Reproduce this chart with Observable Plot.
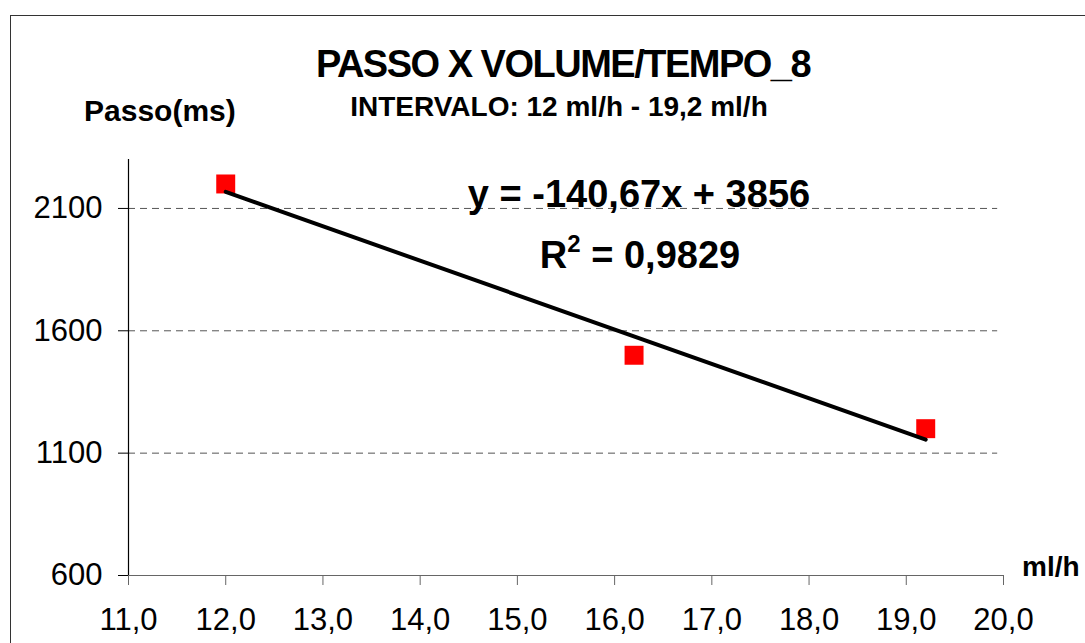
<!DOCTYPE html>
<html>
<head>
<meta charset="utf-8">
<script src="https://cdn.jsdelivr.net/npm/d3@7"></script>
<script src="https://cdn.jsdelivr.net/npm/@observablehq/plot@0.6"></script>
<style>
  html, body { margin: 0; padding: 0; background: #fff; overflow: hidden; }
  #wrap { position: relative; width: 1085px; height: 643px; font-family: "Liberation Sans", Arial, sans-serif; }
  #frame { position: absolute; left: 10px; top: 15px; width: 1200px; height: 800px; border: 1.5px solid #333; box-sizing: border-box; }
  .t { position: absolute; font-weight: bold; color: #000; white-space: nowrap; line-height: 1; }
  .c { transform: translateX(-50%); }
  #chart { position: absolute; left: 0; top: 0; }
  #chart svg text { font-size: 31px !important; font-family: "Liberation Sans", Arial, sans-serif; }
</style>
</head>
<body>
<div id="wrap">
  <div id="frame"></div>
  <div id="chart"></div>
  <div class="t c" style="left:563px;top:45px;font-size:38px;letter-spacing:-1.5px;">PASSO X VOLUME/TEMPO_8</div>
  <div class="t c" style="left:559px;top:93px;font-size:28px;">INTERVALO: 12 ml/h - 19,2 ml/h</div>
  <div class="t" style="left:84px;top:96px;font-size:30px;">Passo(ms)</div>
  <div class="t" style="left:1022px;top:553px;font-size:28px;">ml/h</div>
  <div class="t c" style="left:639px;top:175px;font-size:38px;">y = -140,67x + 3856</div>
  <div class="t c" style="left:640px;top:236px;font-size:38px;">R<sup style="font-size:24px;vertical-align:16px;line-height:0">2</sup> = 0,9829</div>
</div>
<script>
const flowRates = [12, 16.2, 19.2];
const stepMs = [2200, 1500, 1200];
const yTicks = [600, 1100, 1600, 2100];
const gridTicks = [1100, 1600, 2100];
const xTicks = [11, 12, 13, 14, 15, 16, 17, 18, 19, 20];

const data = flowRates.map((x, i) => ({x, y: stepMs[i]}));
const fmtX = d => d.toFixed(1).replace(".", ",");
const fmtY = d => String(d);

const chart = Plot.plot({
  width: 1085,
  height: 643,
  marginLeft: 128,
  marginRight: 82,
  marginTop: 159,
  marginBottom: 68,
  style: {fontFamily: "'Liberation Sans', Arial, sans-serif", fontSize: "31px", color: "#000", background: "transparent"},
  x: {domain: [11, 20]},
  y: {domain: [600, 2300]},
  marks: [
    Plot.ruleY(gridTicks, {x1: 11, x2: 19.94, stroke: "#555", strokeDasharray: "7,5", strokeWidth: 1}),
    Plot.ruleY([600], {stroke: "#666", strokeWidth: 1.2}),
    Plot.ruleX([11], {stroke: "#000", strokeWidth: 1.2}),
    Plot.axisY({ticks: yTicks, tickSize: 10, tickPadding: 16, tickFormat: fmtY, label: null, stroke: "#000", fill: "#000"}),
    Plot.axisX({ticks: xTicks, tickSize: 10, tickPadding: 22, tickFormat: fmtX, label: null, stroke: "#666", fill: "#000"}),
    Plot.dot(data, {x: "x", y: "y", symbol: "square", r: 10.7, fill: "#ff0000", stroke: "none"}),
    Plot.linearRegressionY(data, {x: "x", y: "y", ci: 0, stroke: "#000", strokeWidth: 4})
  ]
});
document.getElementById("chart").appendChild(chart);
</script>
</body>
</html>
